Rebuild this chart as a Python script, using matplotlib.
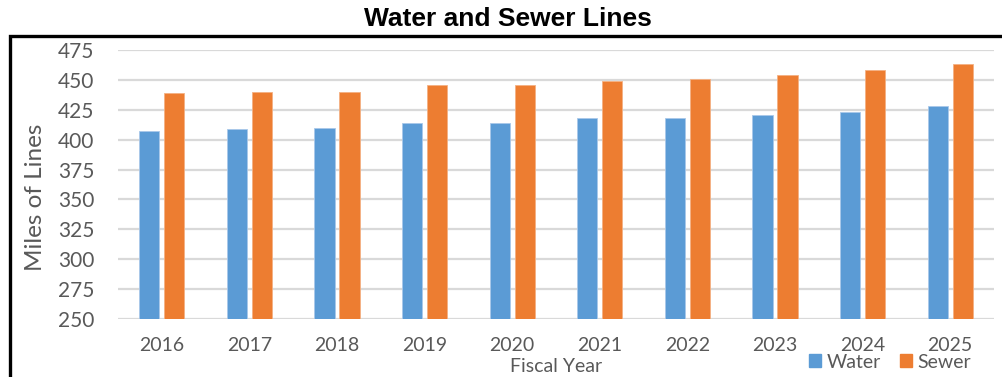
import numpy as np
import matplotlib
matplotlib.use('Agg')
import matplotlib.pyplot as plt
from matplotlib.patches import Rectangle, Patch

# data
years = ['2016', '2017', '2018', '2019', '2020', '2021', '2022', '2023', '2024', '2025']
water = [407, 409, 410, 414, 414, 418, 418, 421, 423, 428]
sewer = [439, 440, 440, 446, 446, 449, 451, 454, 458, 463]

blue = '#5b9bd5'
orange = '#ed7d31'
grey = '#595959'

plt.rcParams['font.family'] = ['Lato', 'DejaVu Sans']

W, H = 1002, 377
fig = plt.figure(figsize=(W / 100, H / 100), dpi=100)
ax = fig.add_axes([118 / W, 1 - 319 / H, (994 - 118) / W, (319 - 50) / H])

x = np.arange(len(years))
ax.bar(x - 0.143, water, width=0.23, bottom=0, color=blue, edgecolor='#a9c8ea', linewidth=0.6, zorder=3)
ax.bar(x + 0.143, sewer, width=0.23, bottom=0, color=orange, edgecolor='#f4b183', linewidth=0.6, zorder=3)

ax.set_ylim(250, 475)
ax.set_xlim(-0.5, len(years) - 0.5)
ax.set_yticks(np.arange(250, 476, 25))
ax.set_xticks(x)
ax.set_xticklabels(years)
ax.yaxis.grid(True, color='#d9d9d9', linewidth=1.6, zorder=0)
ax.set_axisbelow(True)
for s in ax.spines.values():
    s.set_visible(False)
ax.tick_params(axis='x', length=0, labelsize=14, colors=grey, pad=13)
ax.tick_params(axis='y', length=0, labelsize=15, colors=grey, pad=17)

fig.text(36 / W, 1 - 197 / H, 'Miles of Lines', rotation=90, ha='center', va='center',
         fontsize=17.5, color=grey)
fig.text(556 / W, 1 - 367 / H, 'Fiscal Year', ha='center', va='center', fontsize=14, color=grey)
fig.text(508 / W, 1 - 19 / H, 'Water and Sewer Lines', ha='center', va='center',
         fontsize=19, fontweight='bold', family='Liberation Sans', color='black')

# border of the chart box (runs off the right and bottom edge)
fig.patches.append(Rectangle((10 / W, -0.1), 1.1, 1 - 35.5 / H + 0.1, transform=fig.transFigure,
                             fill=False, edgecolor='black', linewidth=2.4))

handles = [Patch(color=blue, label='Water'), Patch(color=orange, label='Sewer')]
fig.legend(handles=handles, loc='center', bbox_to_anchor=(890 / W, 1 - 362 / H), ncol=2,
           frameon=False, fontsize=14, handlelength=0.62, handleheight=0.62,
           handletextpad=0.25, columnspacing=1.0, labelcolor=grey, borderpad=0)

fig.savefig('out.png', dpi=100)
